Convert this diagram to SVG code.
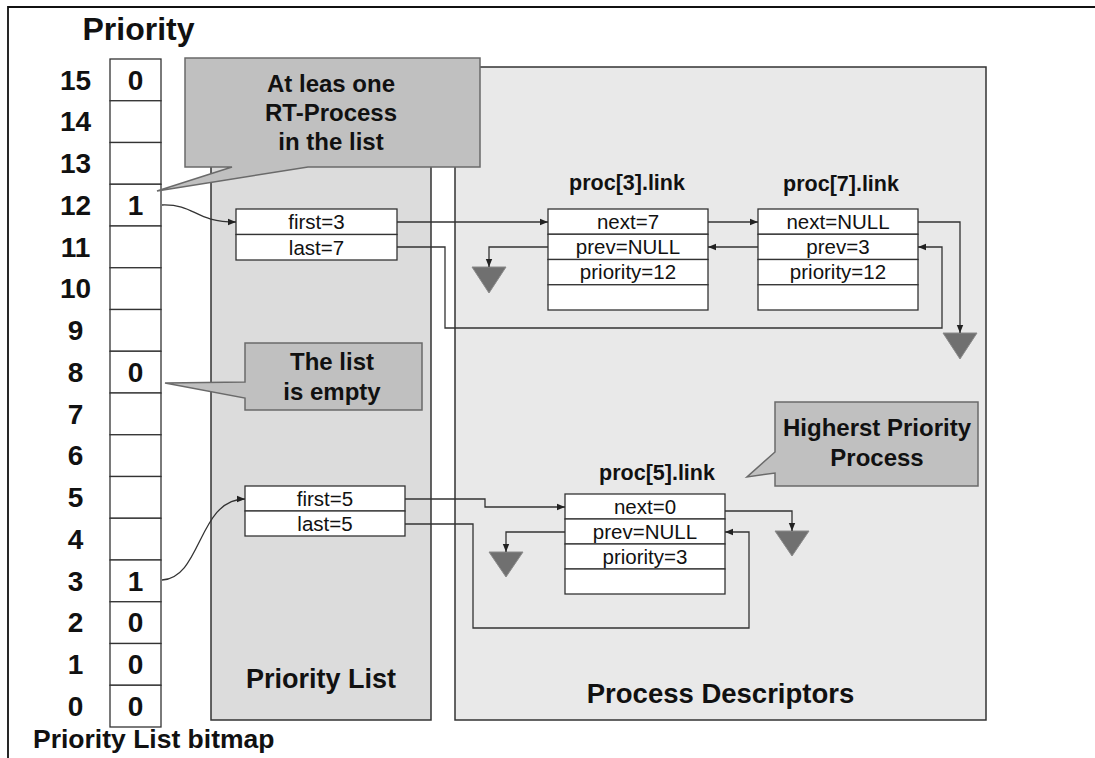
<svg xmlns="http://www.w3.org/2000/svg" width="1095" height="758" viewBox="0 0 1095 758">
<defs>
<marker id="ah" viewBox="0 0 10 10" refX="10" refY="5" markerWidth="8" markerHeight="8" markerUnits="userSpaceOnUse" orient="auto"><path d="M0,1 L10,5 L0,9 z" fill="#222"/></marker>
<style>
text{font-family:"Liberation Sans",Arial,sans-serif;fill:#111}
.b{font-weight:bold}
.num{font-size:28px;font-weight:bold;text-anchor:middle}
.row{font-size:20.5px;text-anchor:middle}
.ttl{font-size:21.5px;font-weight:bold;text-anchor:middle}
.co{font-size:24px;font-weight:bold;text-anchor:middle}
.cell{fill:#fff;stroke:#333;stroke-width:1.3}
.callout{fill:#c0c0c0;stroke:#6a6a6a;stroke-width:1.5}
.gnd{fill:#707070;stroke:#8a8a8a;stroke-width:1}
.conn path{fill:none;stroke:#333;stroke-width:1.3;marker-end:url(#ah)}
</style>
</defs>
<rect width="1095" height="758" fill="#fff"/>
<path d="M8,758 V7 H1095" fill="none" stroke="#111" stroke-width="1.8"/>

<g id="title"><text class="b" x="138.5" y="40" font-size="32" text-anchor="middle">Priority</text></g>

<g id="priority-list-panel">
<rect x="211" y="67" width="220" height="653" fill="#dcdcdc" stroke="#333" stroke-width="1.5"/>
<text class="b" x="321" y="688" font-size="27" text-anchor="middle">Priority List</text>
</g>
<g id="process-descriptors-panel">
<rect x="455" y="67" width="531" height="653" fill="#e9e9e9" stroke="#333" stroke-width="1.5"/>
<text class="b" x="720.5" y="703" font-size="27.5" text-anchor="middle">Process Descriptors</text>
</g>

<g id="bitmap">
<rect class="cell" x="110" y="59" width="51" height="41.75"/>
<rect class="cell" x="110" y="100.75" width="51" height="41.75"/>
<rect class="cell" x="110" y="142.5" width="51" height="41.75"/>
<rect class="cell" x="110" y="184.25" width="51" height="41.75"/>
<rect class="cell" x="110" y="226" width="51" height="41.75"/>
<rect class="cell" x="110" y="267.75" width="51" height="41.75"/>
<rect class="cell" x="110" y="309.5" width="51" height="41.75"/>
<rect class="cell" x="110" y="351.25" width="51" height="41.75"/>
<rect class="cell" x="110" y="393" width="51" height="41.75"/>
<rect class="cell" x="110" y="434.75" width="51" height="41.75"/>
<rect class="cell" x="110" y="476.5" width="51" height="41.75"/>
<rect class="cell" x="110" y="518.25" width="51" height="41.75"/>
<rect class="cell" x="110" y="560" width="51" height="41.75"/>
<rect class="cell" x="110" y="601.75" width="51" height="41.75"/>
<rect class="cell" x="110" y="643.5" width="51" height="41.75"/>
<rect class="cell" x="110" y="685.25" width="51" height="41.75"/>
<text class="num" x="75.5" y="89.5">15</text>
<text class="num" x="75.5" y="131.3">14</text>
<text class="num" x="75.5" y="173">13</text>
<text class="num" x="75.5" y="214.8">12</text>
<text class="num" x="75.5" y="256.5">11</text>
<text class="num" x="75.5" y="298.3">10</text>
<text class="num" x="75.5" y="340">9</text>
<text class="num" x="75.5" y="381.8">8</text>
<text class="num" x="75.5" y="423.5">7</text>
<text class="num" x="75.5" y="465.3">6</text>
<text class="num" x="75.5" y="507">5</text>
<text class="num" x="75.5" y="548.8">4</text>
<text class="num" x="75.5" y="590.5">3</text>
<text class="num" x="75.5" y="632.3">2</text>
<text class="num" x="75.5" y="674">1</text>
<text class="num" x="75.5" y="715.8">0</text>
<text class="num" x="135.5" y="89.5">0</text>
<text class="num" x="135.5" y="214.8">1</text>
<text class="num" x="135.5" y="381.8">0</text>
<text class="num" x="135.5" y="590.5">1</text>
<text class="num" x="135.5" y="632.3">0</text>
<text class="num" x="135.5" y="674">0</text>
<text class="num" x="135.5" y="715.8">0</text>
<text class="b" x="33" y="748" font-size="26.5">Priority List bitmap</text>
</g>

<g id="list12">
<rect class="cell" x="236" y="209" width="161" height="25.5"/>
<rect class="cell" x="236" y="234.5" width="161" height="25.5"/>
<text class="row" x="316.5" y="229">first=3</text>
<text class="row" x="316.5" y="254.5">last=7</text>
</g>
<g id="list3">
<rect class="cell" x="245" y="486" width="160" height="25"/>
<rect class="cell" x="245" y="511" width="160" height="25"/>
<text class="row" x="325" y="505.5">first=5</text>
<text class="row" x="325" y="530.5">last=5</text>
</g>

<g id="proc3">
<text class="ttl" x="627" y="190">proc[3].link</text>
<rect class="cell" x="548" y="209" width="160" height="25.25"/>
<rect class="cell" x="548" y="234.25" width="160" height="25.25"/>
<rect class="cell" x="548" y="259.5" width="160" height="25.25"/>
<rect class="cell" x="548" y="284.75" width="160" height="25.25"/>
<text class="row" x="628" y="228.6">next=7</text>
<text class="row" x="628" y="253.9">prev=NULL</text>
<text class="row" x="628" y="279.1">priority=12</text>
</g>
<g id="proc7">
<text class="ttl" x="841" y="191">proc[7].link</text>
<rect class="cell" x="758" y="209" width="160" height="25.25"/>
<rect class="cell" x="758" y="234.25" width="160" height="25.25"/>
<rect class="cell" x="758" y="259.5" width="160" height="25.25"/>
<rect class="cell" x="758" y="284.75" width="160" height="25.25"/>
<text class="row" x="838" y="228.6">next=NULL</text>
<text class="row" x="838" y="253.9">prev=3</text>
<text class="row" x="838" y="279.1">priority=12</text>
</g>
<g id="proc5">
<text class="ttl" x="657" y="480">proc[5].link</text>
<rect class="cell" x="565" y="494" width="160" height="25"/>
<rect class="cell" x="565" y="519" width="160" height="25"/>
<rect class="cell" x="565" y="544" width="160" height="25"/>
<rect class="cell" x="565" y="569" width="160" height="25"/>
<text class="row" x="645" y="513.5">next=0</text>
<text class="row" x="645" y="538.5">prev=NULL</text>
<text class="row" x="645" y="563.5">priority=3</text>
</g>

<g id="ground-proc3"><polygon class="gnd" points="472,267 506,267 489,293"/></g>
<g id="ground-proc7"><polygon class="gnd" points="943,333 977,333 960,359"/></g>
<g id="ground-proc5-prev"><polygon class="gnd" points="489,552 523,552 506,577"/></g>
<g id="ground-proc5-next"><polygon class="gnd" points="775,531 809,531 792,556"/></g>

<g id="connectors" class="conn">
<path d="M162,205 C196,204 194,222 236,222"/>
<path d="M397,222 H548"/>
<path d="M397,247 H445 V328 H942 V247 H918"/>
<path d="M708,222 H758"/>
<path d="M758,247 H708"/>
<path d="M548,247 H489 V267"/>
<path d="M918,222 H960 V333"/>
<path d="M162,580 C202,578 198,499 245,499"/>
<path d="M405,499 H485 V507 H565"/>
<path d="M405,524 H473 V628 H749 V532 H725"/>
<path d="M565,532 H506 V552"/>
<path d="M725,511 H792 V531"/>
</g>

<g id="callout-rt">
<polygon class="callout" points="185,58 480,58 480,167 308,167 157,191 232,167 185,167"/>
<text class="co" x="331" y="92">At leas one</text>
<text class="co" x="331" y="121">RT-Process</text>
<text class="co" x="331" y="150">in the list</text>
</g>
<g id="callout-empty">
<polygon class="callout" points="245,343 422,343 422,410 245,410 245,398 165,383 245,382"/>
<text class="co" x="332" y="370">The list</text>
<text class="co" x="332" y="400">is empty</text>
</g>
<g id="callout-highest">
<polygon class="callout" points="775,402 978,402 978,486 775,486 775,473 747,477 775,452"/>
<text class="co" x="877" y="436" font-size="23.5">Higherst Priority</text>
<text class="co" x="877" y="466" font-size="23.5">Process</text>
</g>
</svg>
